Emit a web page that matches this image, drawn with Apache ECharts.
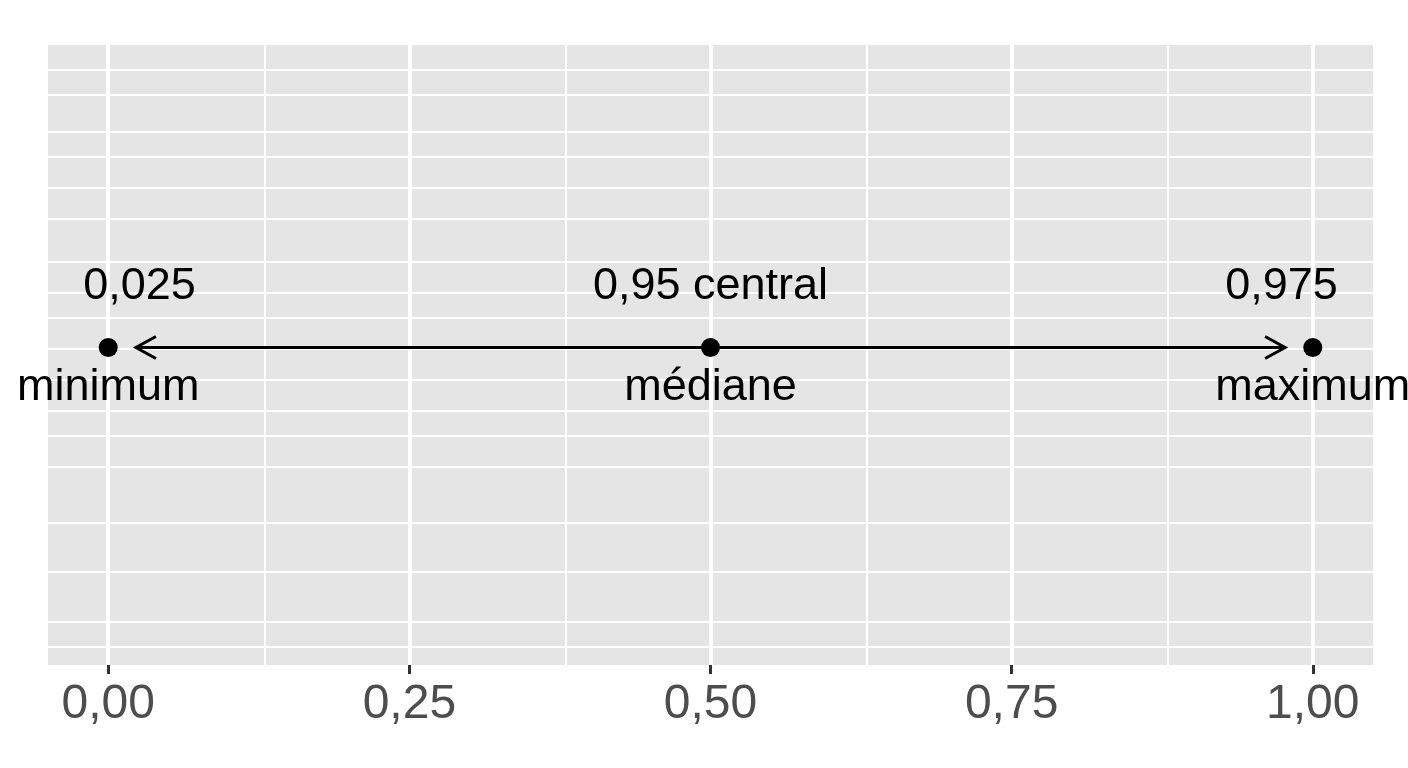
<!DOCTYPE html>
<html><head><meta charset="utf-8">
<script src="https://cdn.jsdelivr.net/npm/echarts@6/dist/echarts.min.js"></script>
<style>html,body{margin:0;padding:0;background:#fff}#c{width:1408px;height:768px}</style>
</head><body><div id="c"></div>
<script>
const xTicks = [0, 0.25, 0.5, 0.75, 1];
const pointX = [0, 0.5, 1];
const pointY = 0.512;
const arrowFrom = 0.023, arrowTo = 0.977;
const topLabels = ['0,025', '0,95 central', '0,975'];
const topLabelX = [0.026, 0.5, 0.974];
const topLabelY = 0.61;
const bottomLabels = ['minimum', 'médiane', 'maximum'];
const bottomLabelX = [0, 0.5, 1];
const bottomLabelY = 0.448;
const hGrid = [0.960,0.915,0.863,0.818,0.769,0.724,0.650,0.600,0.556,0.508,0.463,0.415,0.371,0.315,0.234,0.150,0.068,0.032];
const vMinor = [0.125,0.375,0.625,0.875];

const chart = echarts.init(document.getElementById('c'));
const font = 'Liberation Sans, Arial, sans-serif';
chart.setOption({
  animation:false,
  grid:{left:48,right:35,top:45,bottom:103,show:true,backgroundColor:'#e5e5e5',borderWidth:0},
  xAxis:{type:'value',min:-0.05,max:1.05,interval:0.25,
    axisLine:{show:false},axisTick:{show:true,length:9,lineStyle:{color:'#333',width:3},customValues:xTicks},
    axisLabel:{fontSize:48,color:'#4d4d4d',fontFamily:font,margin:16,customValues:xTicks,
      formatter:v=>v.toFixed(2).replace('.',',')},
    splitLine:{show:false}},
  yAxis:{type:'value',min:0,max:1,show:false,splitLine:{show:false}},
  series:[
    {type:'line',z:1,data:[],markLine:{silent:true,symbol:'none',label:{show:false},
      lineStyle:{color:'#fff',width:2,type:'solid'},
      data:hGrid.map(v=>({yAxis:v})).concat(vMinor.map(v=>({xAxis:v})))}},
    {type:'line',z:1,data:[],markLine:{silent:true,symbol:'none',label:{show:false},
      lineStyle:{color:'#fff',width:4,type:'solid'},
      data:xTicks.map(v=>({xAxis:v}))}},
    {type:'custom',data:[[arrowFrom,arrowTo,pointY]],z:5,
      renderItem:(p,api)=>{
        const a=api.coord([api.value(0),api.value(2)]);
        const b=api.coord([api.value(1),api.value(2)]);
        const s={stroke:'#000',lineWidth:3,fill:null};
        const h=20,w=11;
        return {type:'group',children:[
          {type:'line',shape:{x1:a[0],y1:a[1],x2:b[0],y2:b[1]},style:s},
          {type:'polyline',shape:{points:[[a[0]+h,a[1]-w],[a[0],a[1]],[a[0]+h,a[1]+w]]},style:s},
          {type:'polyline',shape:{points:[[b[0]-h,b[1]-w],[b[0],b[1]],[b[0]-h,b[1]+w]]},style:s}
        ]};
      }},
    {type:'scatter',z:6,symbolSize:19,itemStyle:{color:'#000',opacity:1},data:pointX.map(x=>[x,pointY])},
    {type:'scatter',z:10,symbolSize:1,itemStyle:{opacity:0},data:topLabels.map((t,i)=>({value:[topLabelX[i],topLabelY],name:t})),
      label:{show:true,position:'inside',formatter:p=>p.name,fontSize:45,color:'#000',opacity:1,fontFamily:font}},
    {type:'scatter',z:10,symbolSize:1,itemStyle:{opacity:0},data:bottomLabels.map((t,i)=>({value:[bottomLabelX[i],bottomLabelY],name:t})),
      label:{show:true,position:'inside',formatter:p=>p.name,fontSize:45,color:'#000',opacity:1,fontFamily:font}}
  ]
});
</script></body></html>
